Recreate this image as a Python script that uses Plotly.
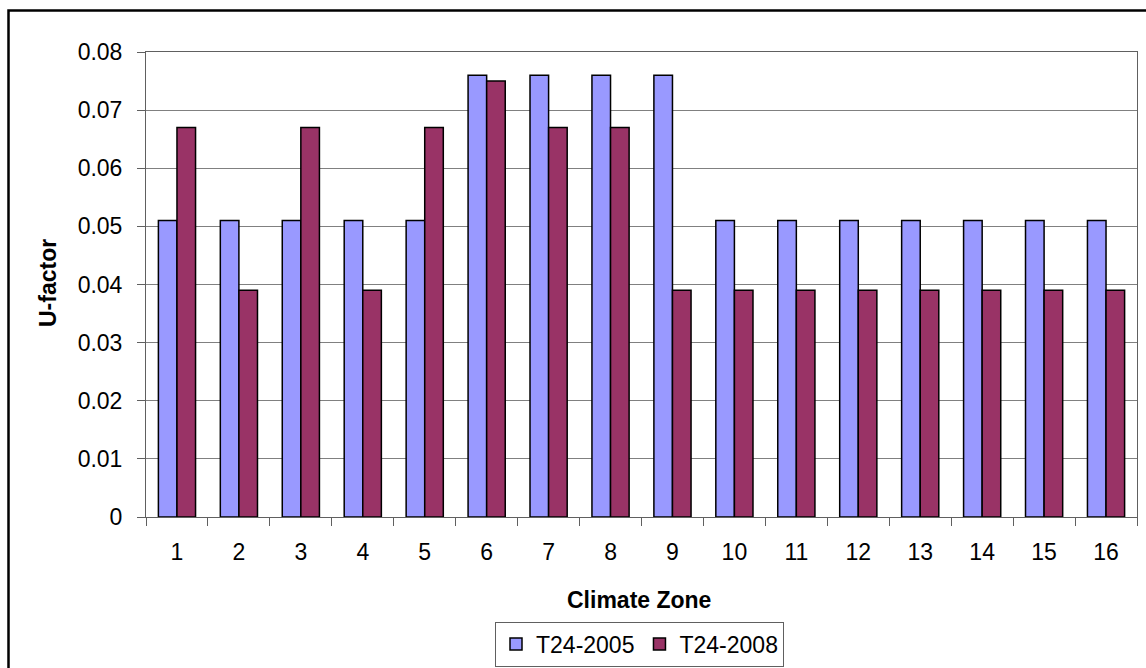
import plotly.graph_objects as go

zones = [str(i) for i in range(1, 17)]
t24_2005 = [0.051, 0.051, 0.051, 0.051, 0.051, 0.076, 0.076, 0.076, 0.076,
            0.051, 0.051, 0.051, 0.051, 0.051, 0.051, 0.051]
t24_2008 = [0.067, 0.039, 0.067, 0.039, 0.067, 0.075, 0.067, 0.067, 0.039,
            0.039, 0.039, 0.039, 0.039, 0.039, 0.039, 0.039]
y_ticks = [0, 0.01, 0.02, 0.03, 0.04, 0.05, 0.06, 0.07, 0.08]
y_tick_labels = ["0", "0.01", "0.02", "0.03", "0.04", "0.05", "0.06", "0.07", "0.08"]

FONT = "Liberation Sans, Arial, sans-serif"
W, H = 1146, 668
L, R, T, B = 146, 9, 52, 151
pw, ph = W - L - R, H - T - B

def px_x(x):
    return (x - L) / pw

def px_y(y):
    return (H - B - y) / ph

fig = go.Figure()
fig.add_trace(go.Bar(x=zones, y=t24_2005, name="T24-2005",
                     marker=dict(color="#9999FF", line=dict(color="black", width=1.5))))
fig.add_trace(go.Bar(x=zones, y=t24_2008, name="T24-2008",
                     marker=dict(color="#993366", line=dict(color="black", width=1.5))))

fig.update_layout(
    width=W, height=H,
    margin=dict(l=L, r=R, t=T, b=B, autoexpand=False),
    paper_bgcolor="white", plot_bgcolor="white",
    font=dict(family=FONT, size=23, color="black"),
    barmode="group", bargap=0.4, bargroupgap=0,
    showlegend=True,
    legend=dict(orientation="h", x=px_x(639.5), xanchor="center",
                y=px_y(644), yanchor="middle",
                bordercolor="#606060", borderwidth=1,
                font=dict(size=23), bgcolor="white",
                itemwidth=30),
    xaxis=dict(type="category", tickson="boundaries", ticks="outside", ticklen=8,
               tickcolor="#606060", showline=True, linecolor="#606060", linewidth=1,
               mirror=True, showgrid=False, tickfont=dict(size=23),
               ticklabelstandoff=14),
    yaxis=dict(range=[0, 0.08], tickvals=y_ticks, ticktext=y_tick_labels,
               ticks="outside", ticklen=8, tickcolor="#606060",
               showline=True, linecolor="#606060", linewidth=1, mirror=True,
               showgrid=True, gridcolor="#808080", gridwidth=1,
               zeroline=False, tickfont=dict(size=23), ticklabelstandoff=10),
    annotations=[
        dict(text="<b>Climate Zone</b>", xref="paper", yref="paper",
             x=px_x(639), y=px_y(600), xanchor="center", yanchor="middle",
             showarrow=False, font=dict(size=23)),
        dict(text="<b>U-factor</b>", xref="paper", yref="paper",
             x=px_x(48), y=px_y(283), xanchor="center", yanchor="middle",
             textangle=-90, showarrow=False, font=dict(size=23)),
    ],
    shapes=[
        dict(type="rect", xref="paper", yref="paper",
             x0=px_x(8.5), x1=px_x(1160), y0=px_y(10.5), y1=px_y(690),
             line=dict(color="black", width=2.5), fillcolor="rgba(0,0,0,0)",
             layer="above"),
    ],
)

fig.write_html("out.html")
